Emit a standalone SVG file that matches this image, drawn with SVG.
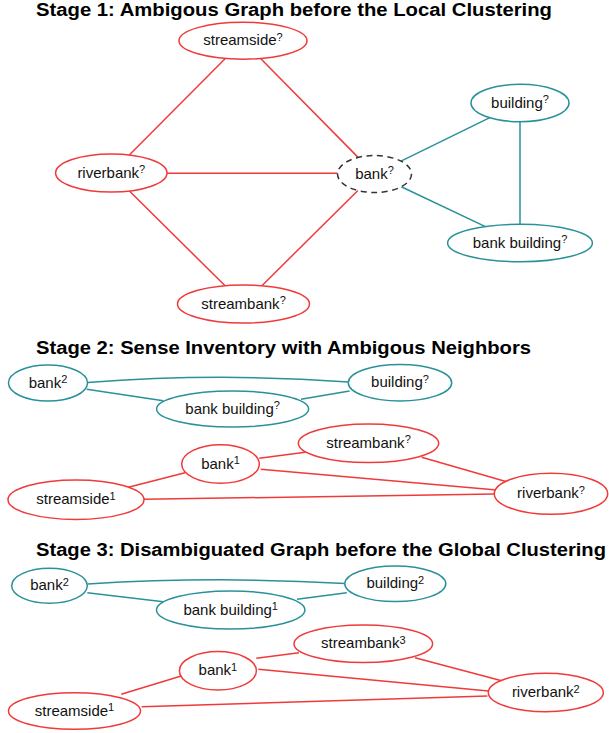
<svg xmlns="http://www.w3.org/2000/svg" width="609" height="733" viewBox="0 0 609 733">
<style>
.t{font-family:"Liberation Sans",Arial,sans-serif;font-weight:bold;font-size:18px;fill:#000}
.l{font-family:"Liberation Sans",Arial,sans-serif;font-size:15px;fill:#111;text-anchor:middle}
.s{font-size:11px}
.r{fill:#fff;stroke:#f03a3a;stroke-width:1.5}
.g{fill:#fff;stroke:#2a9199;stroke-width:1.5}
.d{fill:#fff;stroke:#333;stroke-width:1.5;stroke-dasharray:6 4.5}
.er{fill:none;stroke:#f03a3a;stroke-width:1.5}
.eg{fill:none;stroke:#2a9199;stroke-width:1.5}
</style>
<text class="t" x="36" y="15.5" textLength="516" lengthAdjust="spacingAndGlyphs">Stage 1: Ambigous Graph before the Local Clustering</text>
<text class="t" x="36" y="354" textLength="495" lengthAdjust="spacingAndGlyphs">Stage 2: Sense Inventory with Ambigous Neighbors</text>
<text class="t" x="36" y="555.5" textLength="570" lengthAdjust="spacingAndGlyphs">Stage 3: Disambiguated Graph before the Global Clustering</text>
<g id="connectors">
<line class="er" x1="225.3" y1="58.5" x2="129.3" y2="155"/>
<line class="er" x1="260.6" y1="58.5" x2="358.1" y2="157.4"/>
<line class="er" x1="167" y1="173.3" x2="337.5" y2="173.3"/>
<line class="er" x1="129.4" y1="191" x2="225.1" y2="285.8"/>
<line class="er" x1="357.9" y1="190.5" x2="261.9" y2="285.7"/>
<line class="eg" x1="401" y1="161.1" x2="489.8" y2="117.7"/>
<line class="eg" x1="401.3" y1="186.7" x2="485.4" y2="226.6"/>
<line class="eg" x1="520" y1="121.7" x2="520" y2="224.3"/>
<path class="eg" d="M87.5,382.5 Q218,372.5 348.5,382"/>
<line class="eg" x1="86.7" y1="389.3" x2="163.3" y2="400.7"/>
<line class="eg" x1="301" y1="399.3" x2="349.5" y2="391"/>
<line class="er" x1="128.3" y1="487.3" x2="185" y2="472.7"/>
<line class="er" x1="144" y1="499.3" x2="495" y2="494"/>
<line class="er" x1="259.3" y1="458.3" x2="305" y2="452.3"/>
<line class="er" x1="260.7" y1="469.3" x2="496.7" y2="490"/>
<line class="er" x1="421.7" y1="457.3" x2="506.7" y2="481.7"/>
<path class="eg" d="M87.5,584 Q216,576 345,583.5"/>
<line class="eg" x1="87.3" y1="592.7" x2="163.3" y2="601.7"/>
<line class="eg" x1="297" y1="599.3" x2="346.8" y2="592.7"/>
<line class="er" x1="256.3" y1="658.3" x2="299" y2="652.7"/>
<line class="er" x1="258.3" y1="669.3" x2="488.5" y2="691"/>
<line class="er" x1="415" y1="657.7" x2="501.7" y2="680.7"/>
<line class="er" x1="121.2" y1="694.3" x2="184.5" y2="675"/>
<line class="er" x1="141.7" y1="706.7" x2="487.4" y2="696"/>
</g>
<g id="s1-streamside"><ellipse class="r" cx="243" cy="40.7" rx="64" ry="18.5"/><text class="l" x="243" y="45">streamside<tspan class="s" dy="-4.5">?</tspan></text></g>
<g id="s1-building"><ellipse class="g" cx="520" cy="103" rx="49" ry="18.7"/><text class="l" x="520" y="107.5">building<tspan class="s" dy="-4.5">?</tspan></text></g>
<g id="s1-riverbank"><ellipse class="r" cx="111.3" cy="173" rx="55.7" ry="19"/><text class="l" x="111.3" y="177.5">riverbank<tspan class="s" dy="-4.5">?</tspan></text></g>
<g id="s1-bank"><ellipse class="d" cx="374.5" cy="174" rx="37" ry="18.5"/><text class="l" x="374.5" y="178.5">bank<tspan class="s" dy="-4.5">?</tspan></text></g>
<g id="s1-bankbuilding"><ellipse class="g" cx="520" cy="243" rx="72.4" ry="18.7"/><text class="l" x="520" y="247.5">bank building<tspan class="s" dy="-4.5">?</tspan></text></g>
<g id="s1-streambank"><ellipse class="r" cx="243.5" cy="304" rx="66" ry="19"/><text class="l" x="243.5" y="308.5">streambank<tspan class="s" dy="-4.5">?</tspan></text></g>
<g id="s2-bank2"><ellipse class="g" cx="48" cy="383" rx="39.5" ry="18"/><text class="l" x="48" y="387.5">bank<tspan class="s" dy="-4.5">2</tspan></text></g>
<g id="s2-building"><ellipse class="g" cx="400" cy="382.7" rx="51.7" ry="18.3"/><text class="l" x="400" y="387.2">building<tspan class="s" dy="-4.5">?</tspan></text></g>
<g id="s2-bankbuilding"><ellipse class="g" cx="232.6" cy="409" rx="76" ry="18"/><text class="l" x="232.6" y="413.5">bank building<tspan class="s" dy="-4.5">?</tspan></text></g>
<g id="s2-streambank"><ellipse class="r" cx="368.5" cy="443.3" rx="70.2" ry="19.3"/><text class="l" x="368.5" y="447.8">streambank<tspan class="s" dy="-4.5">?</tspan></text></g>
<g id="s2-bank1"><ellipse class="r" cx="220.5" cy="464" rx="38.8" ry="19.3"/><text class="l" x="220.5" y="468.5">bank<tspan class="s" dy="-4.5">1</tspan></text></g>
<g id="s2-streamside1"><ellipse class="r" cx="76" cy="499.7" rx="68" ry="19.7"/><text class="l" x="76" y="504.2">streamside<tspan class="s" dy="-4.5">1</tspan></text></g>
<g id="s2-riverbank"><ellipse class="r" cx="551" cy="493.8" rx="56.7" ry="20.5"/><text class="l" x="551" y="498.3">riverbank<tspan class="s" dy="-4.5">?</tspan></text></g>
<g id="s3-bank2"><ellipse class="g" cx="49.5" cy="585.8" rx="37.8" ry="17.5"/><text class="l" x="49.5" y="590.3">bank<tspan class="s" dy="-4.5">2</tspan></text></g>
<g id="s3-building2"><ellipse class="g" cx="395.3" cy="583.8" rx="50.5" ry="17.8"/><text class="l" x="395.3" y="588.3">building<tspan class="s" dy="-4.5">2</tspan></text></g>
<g id="s3-bankbuilding1"><ellipse class="g" cx="230.7" cy="610" rx="74.2" ry="19"/><text class="l" x="230.7" y="614.5">bank building<tspan class="s" dy="-4.5">1</tspan></text></g>
<g id="s3-streambank3"><ellipse class="r" cx="363.3" cy="643.8" rx="69.3" ry="18.8"/><text class="l" x="363.3" y="648.3">streambank<tspan class="s" dy="-4.5">3</tspan></text></g>
<g id="s3-bank1"><ellipse class="r" cx="217.9" cy="670.8" rx="38.5" ry="19.2"/><text class="l" x="217.9" y="675.3">bank<tspan class="s" dy="-4.5">1</tspan></text></g>
<g id="s3-streamside1"><ellipse class="r" cx="74.5" cy="711" rx="66" ry="18.3"/><text class="l" x="74.5" y="715.5">streamside<tspan class="s" dy="-4.5">1</tspan></text></g>
<g id="s3-riverbank2"><ellipse class="r" cx="545.8" cy="692.5" rx="57.5" ry="19.2"/><text class="l" x="545.8" y="697">riverbank<tspan class="s" dy="-4.5">2</tspan></text></g>
</svg>
